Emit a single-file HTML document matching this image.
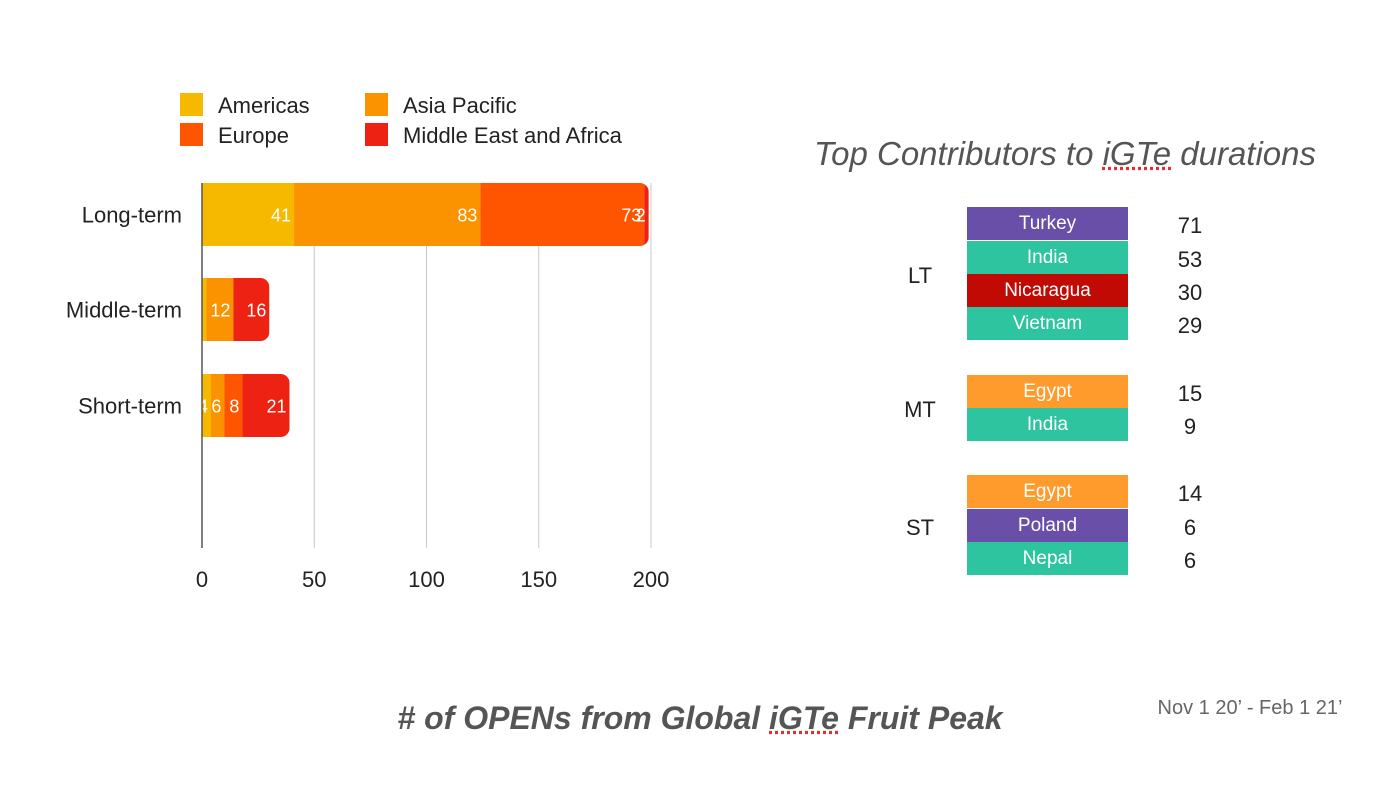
<!DOCTYPE html>
<html><head><meta charset="utf-8">
<style>
body{margin:0;width:1400px;height:785px;background:#fff;position:relative;overflow:hidden;font-family:"Liberation Sans",sans-serif;}
.abs{position:absolute;}
.cell{position:absolute;left:967px;width:161px;height:33px;color:#fff;font-size:19px;text-align:center;line-height:33px;}
.num{position:absolute;left:1160px;width:60px;text-align:center;font-size:22px;color:#222;}
.grp{position:absolute;left:895px;width:50px;text-align:center;font-size:22px;color:#222;}
</style></head><body>
<svg id="chart" class="abs" style="left:0;top:0" width="700" height="620"></svg>

<div class="abs" style="left:790px;top:135px;width:550px;text-align:center;font-size:33px;font-style:italic;color:#555;">Top Contributors to <span style="text-decoration:underline dotted #e03030;">iGTe</span> durations</div>

<div class="grp" style="top:263px">LT</div>
<div class="cell" style="top:207px;background:#6a4fa8">Turkey</div>
<div class="cell" style="top:241px;background:#2fc4a0">India</div>
<div class="cell" style="top:274px;background:#c20a05">Nicaragua</div>
<div class="cell" style="top:307px;background:#2fc4a0">Vietnam</div>
<div class="num" style="top:213px">71</div>
<div class="num" style="top:247px">53</div>
<div class="num" style="top:280px">30</div>
<div class="num" style="top:313px">29</div>

<div class="grp" style="top:397px">MT</div>
<div class="cell" style="top:375px;background:#ff9a2c">Egypt</div>
<div class="cell" style="top:408px;background:#2fc4a0">India</div>
<div class="num" style="top:381px">15</div>
<div class="num" style="top:414px">9</div>

<div class="grp" style="top:515px">ST</div>
<div class="cell" style="top:475px;background:#ff9a2c">Egypt</div>
<div class="cell" style="top:509px;background:#6a4fa8">Poland</div>
<div class="cell" style="top:542px;background:#2fc4a0">Nepal</div>
<div class="num" style="top:481px">14</div>
<div class="num" style="top:515px">6</div>
<div class="num" style="top:548px">6</div>

<div class="abs" style="left:380px;top:700px;width:640px;text-align:center;font-size:32px;font-weight:bold;font-style:italic;color:#555;"> # of OPENs from Global <span style="text-decoration:underline dotted #e03030;">iGTe</span> Fruit Peak</div>
<div class="abs" style="left:1140px;top:697px;width:220px;text-align:center;font-size:20px;color:#666;">Nov 1 20’ - Feb 1 21’</div>

<script>
const categories = ["Long-term","Middle-term","Short-term"];
const seriesNames = ["Americas","Asia Pacific","Europe","Middle East and Africa"];
const americas = [41,2,4];
const asiaPacific = [83,12,6];
const europe = [73,0,8];
const mea = [2,16,21];
const tickValues = [0,50,100,150,200];
const colors = ["#f7b800","#fb9200","#ff5500","#ee2212"];
const series = [americas, asiaPacific, europe, mea];

const NS="http://www.w3.org/2000/svg";
const svg=document.getElementById('chart');
const x0=202, pxPer=(651-202)/200;
const xs=v=>x0+v*pxPer;
const rowY=[183,278,374], barH=63;
function mk(t,a){const e=document.createElementNS(NS,t);for(const k in a)e.setAttribute(k,a[k]);svg.appendChild(e);return e;}

tickValues.forEach(t=>{
  if(t>0){const g=mk('line',{x1:xs(t),x2:xs(t),y1:183,y2:548,stroke:'#c8c8c8','stroke-width':1});
  
  }
  const tx=mk('text',{x:xs(t),y:587,'text-anchor':'middle','font-size':22,fill:'#222','font-family':'Liberation Sans'});
  tx.textContent=t;
  
  
});

categories.forEach((c,i)=>{
  const y=rowY[i];
  const total=series.reduce((s,a)=>s+a[i],0);
  const cid='clip'+i;
  const cp=document.createElementNS(NS,'clipPath');cp.setAttribute('id',cid);
  const cr=document.createElementNS(NS,'rect');
  cr.setAttribute('x',x0-10);cr.setAttribute('y',y);cr.setAttribute('width',xs(total)-x0+10);cr.setAttribute('height',barH);cr.setAttribute('rx',9);
  cp.appendChild(cr);svg.appendChild(cp);
  let acc=0;
  series.forEach((arr,k)=>{
    const v=arr[i];
    const r=mk('rect',{x:xs(acc),y:y,width:v*pxPer,height:barH,fill:colors[k],'clip-path':'url(#'+cid+')'});
    
    
    acc+=v;
    if(v>0){
      const t=mk('text',{x:xs(acc)-3,y:y+barH/2+7,'text-anchor':'end','font-size':18,fill:'#fff','font-family':'Liberation Sans'});
      t.textContent=v;
      
      
    }
  });
  const lab=mk('text',{x:182,y:y+barH/2+8,'text-anchor':'end','font-size':22,fill:'#222','font-family':'Liberation Sans'});
  lab.textContent=c;
  
  
});
const ax=mk('line',{x1:x0,x2:x0,y1:183,y2:548,stroke:'#555','stroke-width':1.5});



const legPos=[[180,93],[365,93],[180,123],[365,123]];
seriesNames.forEach((n,k)=>{
  const [lx,ly]=legPos[k];
  const sw=mk('rect',{x:lx,y:ly,width:23,height:23,fill:colors[k]});
  
  
  const t=mk('text',{x:lx+38,y:ly+20,'font-size':22,fill:'#222','font-family':'Liberation Sans'});
  t.textContent=n;
  
  
});
</script>
</body></html>
